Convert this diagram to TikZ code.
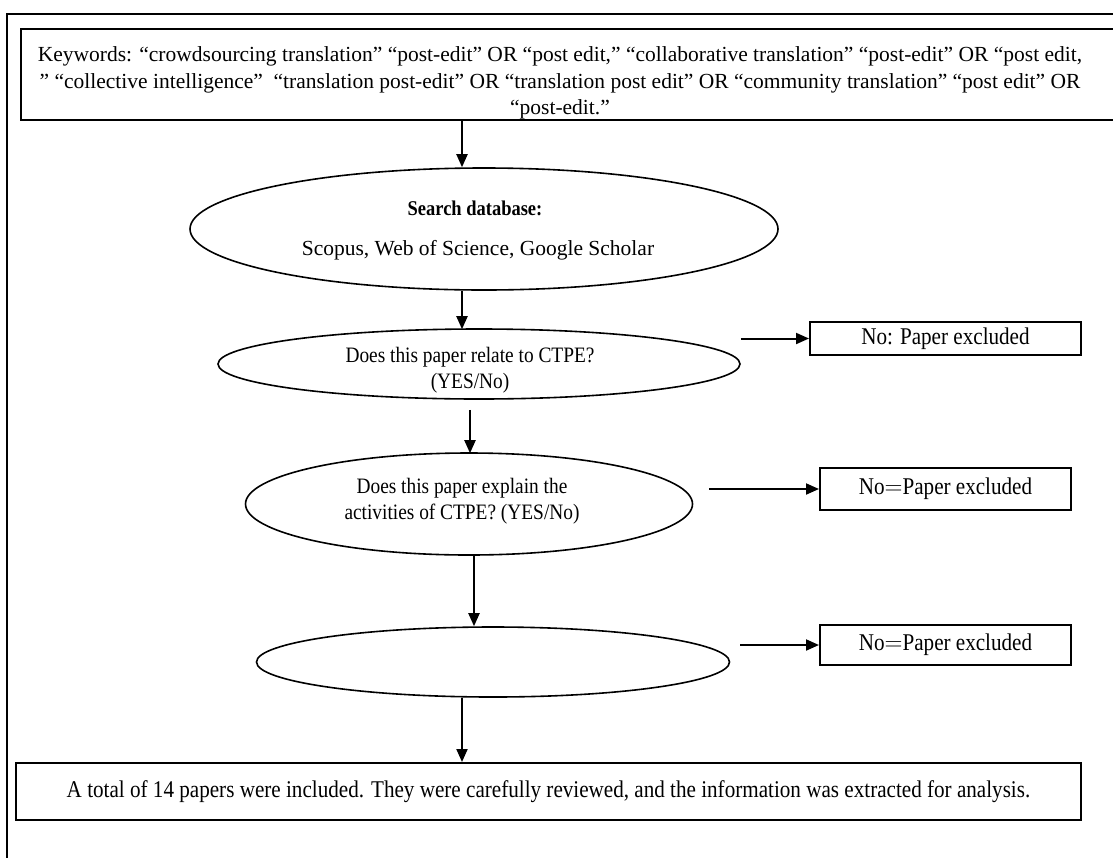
\documentclass[tikz,border=0pt]{standalone}
\usepackage{fontspec}
\setmainfont{Liberation Serif}
\newfontfamily\cond[FakeStretch=0.88]{Liberation Serif}
\usetikzlibrary{shapes.geometric,arrows.meta}
\begin{document}
\begin{tikzpicture}[x=1pt,y=-1pt,
  frame/.style={draw,line width=2pt},
  boxnode/.style={draw,line width=2pt,inner sep=0pt,rectangle},
  ell/.style={draw,ellipse,line width=1.6pt,inner sep=0pt},
  arr/.style={line width=2pt,-{Triangle[length=13pt,width=11pt]}},
  txt/.style={font=\fontsize{21.5}{26.5}\selectfont,align=center,inner sep=0pt},
  ctxt/.style={font=\cond\fontsize{22}{26}\selectfont,align=center,inner sep=0pt},
  rtxt/.style={font=\cond\fontsize{24}{26}\selectfont}]
\useasboundingbox (0,0) rectangle (1113,857);
\clip (0,0) rectangle (1113,857);
\draw[frame] (7,14) rectangle (1140,890);
% keywords box
\node[boxnode,minimum width=1110pt,minimum height=91pt] (kw) at (576,74.5) {};
\node[txt] (kwt) at (560,83) {Keywords: “crowdsourcing translation” “post-edit” OR “post edit,” “collaborative translation” “post-edit” OR “post edit,\\
” “collective intelligence”\ \ “translation post-edit” OR “translation post edit” OR “community translation” “post edit” OR\\
“post-edit.”};
% ellipses
\node[ell,minimum width=588pt,minimum height=122pt] (e1) at (484,229) {};
\node[font=\bfseries\cond\fontsize{21}{24}\selectfont,inner sep=0pt] (e1a) at (475,208) {Search database:};
\node[txt] (e1b) at (478,250) {Scopus, Web of Science, Google Scholar};
\node[ell,minimum width=522pt,minimum height=70pt] (e2) at (479,364) {};
\node[ctxt] (e2t) at (470,370) {Does this paper relate to CTPE?\\(YES/No)};
\node[ell,minimum width=447pt,minimum height=102pt] (e3) at (469,504) {};
\node[ctxt] (e3t) at (462,501) {Does this paper explain the\\activities of CTPE? (YES/No)};
\node[ell,minimum width=473pt,minimum height=70pt] (e4) at (493,662) {};
% right boxes
\node[boxnode,minimum width=271pt,minimum height=33pt,rtxt] (r1) at (945.5,338.5) {No: Paper excluded};
\node[boxnode,minimum width=251pt,minimum height=42pt,rtxt] (r2) at (945.5,489) {No$=$Paper excluded};
\node[boxnode,minimum width=251pt,minimum height=40pt,rtxt] (r3) at (945.5,645) {No$=$Paper excluded};
% bottom box
\node[boxnode,minimum width=1065pt,minimum height=57pt,rtxt] (bot) at (548.5,791.5) {A total of 14 papers were included. They were carefully reviewed, and the information was extracted for analysis.};
% arrow x positions
\coordinate (xa) at (462,0);
\coordinate (xb) at (462,0);
\coordinate (xc) at (470,0);
\coordinate (xd) at (474,0);
\coordinate (xe) at (462,0);
\draw[arr] (kw.south -| xa) -- (e1.north -| xa);
\draw[arr] (e1.south -| xb) -- ([yshift=-1pt]e2.north -| xb);
\draw[arr] ([yshift=-10pt]e2.south -| xc) -- ([yshift=-1pt]e3.north -| xc);
\draw[arr] (e3.south -| xd) -- (e4.north -| xd);
\draw[arr] (e4.south -| xe) -- (bot.north -| xe);
\draw[arr] (e2.east |- r1.west) -- (r1.west);
\draw[arr] ([xshift=16pt]e3.east |- r2.west) -- (r2.west);
\draw[arr] ([xshift=10pt]e4.east |- r3.west) -- (r3.west);
\end{tikzpicture}
\end{document}
